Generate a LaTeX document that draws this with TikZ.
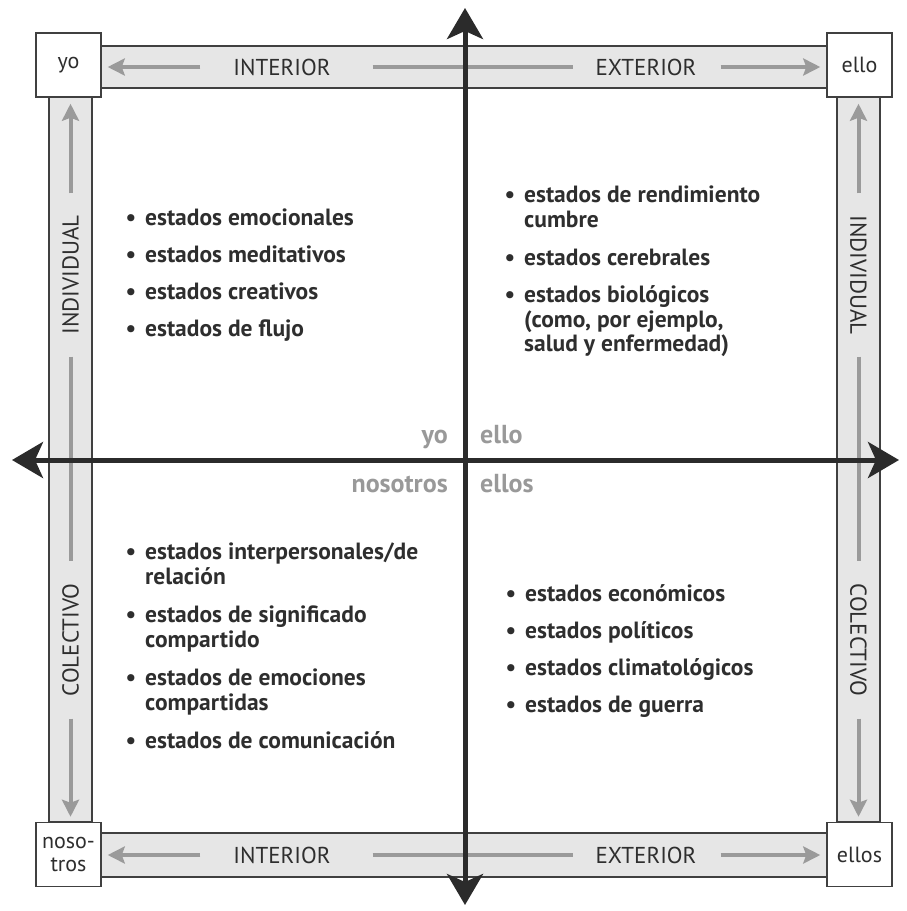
\documentclass[tikz,border=0pt]{standalone}
\usepackage{fontspec}
\setmainfont{PT Sans}
\usetikzlibrary{arrows.meta}
\definecolor{barfill}{HTML}{E6E6E6}
\definecolor{barline}{HTML}{404040}
\definecolor{arrgrey}{HTML}{9A9A9A}
\definecolor{txt}{HTML}{2E2E2E}
\definecolor{axiscol}{HTML}{2B2B2B}
\definecolor{lbl}{HTML}{999999}
\newcommand{\bul}{\llap{\textbullet\hspace{9pt}}}
\begin{document}
\begin{tikzpicture}[x=1pt,y=-1pt,
 bar/.style={fill=barfill,draw=barline,line width=1.8pt},
 corner/.style={draw=barline,fill=white,line width=1.5pt,minimum width=65pt,minimum height=64pt,inner sep=0pt,font=\fontsize{22}{23}\selectfont,text=txt,align=center},
 barlbl/.style={font=\fontsize{23}{26}\selectfont,text=txt,inner sep=0pt},
 barar/.style={draw=arrgrey,line width=4pt,-{Stealth[length=17pt,width=17pt,inset=3pt]}},
 barln/.style={draw=arrgrey,line width=4pt},
 axisar/.style={draw=axiscol,line width=5pt,{Stealth[length=31pt,width=36pt,inset=8pt]}-{Stealth[length=31pt,width=36pt,inset=8pt]}},
 itm/.style={anchor=base west,inner sep=0pt,font=\fontsize{23.5}{26}\selectfont\bfseries,text=txt},
 quad/.style={font=\fontsize{26}{28}\selectfont\bfseries,text=lbl,inner sep=0pt},
]
\useasboundingbox (0,0) rectangle (906,911);

% bars
\draw[bar] (101,46) rectangle (827,88);
\draw[bar] (101,833) rectangle (827,877);
\draw[bar] (49,97) rectangle (92,822);
\draw[bar] (837,97) rectangle (880,822);

% corner boxes
\node[corner] (yo) at (68.5,65) {yo};
\node[corner] (ello) at (859.5,65) {ello};
\node[corner] (nos) at (68.5,854.5) {noso-\\tros};
\node[corner] (ellos) at (859.5,854.5) {ellos};

% top bar
\node[barlbl] (tint) at (282,67) {INTERIOR};
\node[barlbl] (text) at (646,67) {EXTERIOR};
\draw[barar,shorten <=33pt,shorten >=6pt] (tint.west) -- (yo.east |- tint.west);
\draw[barln,shorten <=42pt,shorten >=22pt] (tint.east) -- (text.west);
\draw[barar,shorten <=24pt,shorten >=6pt] (text.east) -- (ello.west |- text.east);

% bottom bar
\node[barlbl] (bint) at (282,855) {INTERIOR};
\node[barlbl] (bext) at (646,855) {EXTERIOR};
\draw[barar,shorten <=33pt,shorten >=6pt] (bint.west) -- (nos.east |- bint.west);
\draw[barln,shorten <=42pt,shorten >=22pt] (bint.east) -- (bext.west);
\draw[barar,shorten <=24pt,shorten >=6pt] (bext.east) -- (ellos.west |- bext.east);

% left bar
\node[barlbl,rotate=90] (lind) at (70.5,275) {INDIVIDUAL};
\node[barlbl,rotate=90] (lcol) at (70.5,640) {COLECTIVO};
\draw[barar,shorten <=22pt,shorten >=6pt] (lind.east) -- (lind.east |- yo.south);
\draw[barln,shorten <=22pt,shorten >=22pt] (lind.west) -- (lcol.east);
\draw[barar,shorten <=22pt,shorten >=5pt] (lcol.west) -- (lcol.west |- nos.north);

% right bar
\node[barlbl,rotate=-90] (rind) at (858.5,275) {INDIVIDUAL};
\node[barlbl,rotate=-90] (rcol) at (858.5,640) {COLECTIVO};
\draw[barar,shorten <=22pt,shorten >=6pt] (rind.west) -- (rind.west |- ello.south);
\draw[barln,shorten <=22pt,shorten >=22pt] (rind.east) -- (rcol.west);
\draw[barar,shorten <=22pt,shorten >=5pt] (rcol.east) -- (rcol.east |- ellos.north);

% axes
\coordinate (vt) at (465,8);
\coordinate (vb) at (465,905);
\coordinate (hl) at (12,460);
\coordinate (hr) at (899,460);
\draw[axisar] (vb) -- (vt);
\draw[axisar] (hl) -- (hr);

% quadrant labels
\node[quad,anchor=base east] (qyo) at (448,443) {yo};
\node[quad,anchor=base west] (qello) at (480,443) {ello};
\node[quad,anchor=base east] (qnos) at (448,492) {nosotros};
\node[quad,anchor=base west] (qellos) at (480,492) {ellos};

% upper left
\node[itm] (ul1) at (145,225) {\bul estados emocionales};
\node[itm] (ul2) at (145,262) {\bul estados meditativos};
\node[itm] (ul3) at (145,299) {\bul estados creativos};
\node[itm] (ul4) at (145,336) {\bul estados de flujo};

% upper right
\node[itm] (ur1) at (524,202) {\bul estados de rendimiento};
\node[itm] (ur1b) at (524,227) {cumbre};
\node[itm] (ur2) at (524,265) {\bul estados cerebrales};
\node[itm] (ur3) at (524,302) {\bul estados biológicos};
\node[itm] (ur3b) at (524,327) {(como, por ejemplo,};
\node[itm] (ur3c) at (524,351) {salud y enfermedad)};

% lower left
\node[itm] (ll1) at (145,559) {\bul estados interpersonales/de};
\node[itm] (ll1b) at (145,584) {relación};
\node[itm] (ll2) at (145,622) {\bul estados de significado};
\node[itm] (ll2b) at (145,647) {compartido};
\node[itm] (ll3) at (145,685) {\bul estados de emociones};
\node[itm] (ll3b) at (145,710) {compartidas};
\node[itm] (ll4) at (145,748) {\bul estados de comunicación};

% lower right
\node[itm] (lr1) at (525,601) {\bul estados económicos};
\node[itm] (lr2) at (525,638) {\bul estados políticos};
\node[itm] (lr3) at (525,675) {\bul estados climatológicos};
\node[itm] (lr4) at (525,712) {\bul estados de guerra};
\end{tikzpicture}
\end{document}
